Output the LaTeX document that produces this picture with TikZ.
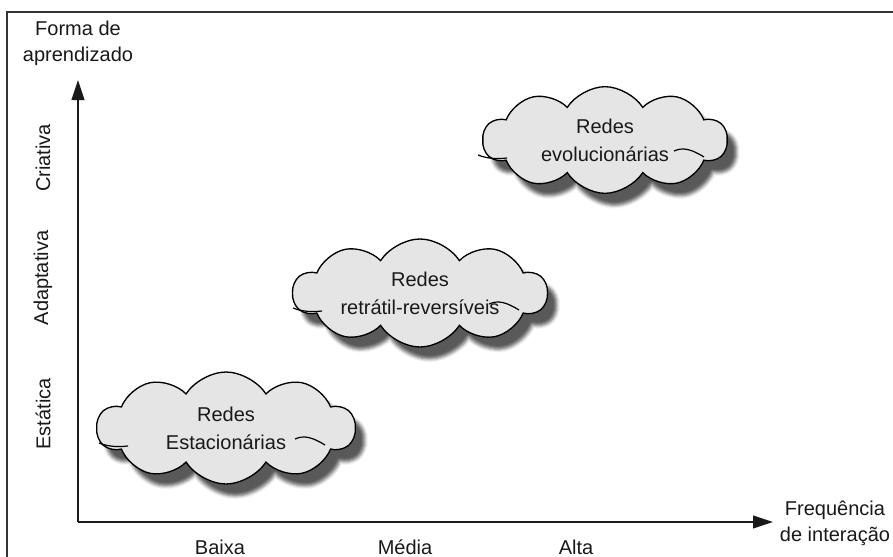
\documentclass[tikz,border=0pt]{standalone}
\usepackage{fontspec}
\setmainfont{Liberation Sans}
\usetikzlibrary{shapes.symbols,arrows.meta,shadows.blur}
\newcommand\cloudmarks[1]{%
  \draw[innermark] ([shift={(-127,15)}]#1.center) .. controls ([shift={(-117,19)}]#1.center) and ([shift={(-107,19)}]#1.center) .. ([shift={(-98,18)}]#1.center);
  \draw[innermark] ([shift={(69,11)}]#1.center) .. controls ([shift={(78,7)}]#1.center) and ([shift={(86,9)}]#1.center) .. ([shift={(99,17)}]#1.center);
}
\begin{document}
\begin{tikzpicture}[x=0.75pt,y=-0.75pt,
  lbl/.style={font=\fontsize{15}{19.5}\selectfont, text=black!90, align=center, inner sep=0pt},
  cloudbox/.style={cloud, cloud puffs=10, cloud puff arc=115, cloud ignores aspect,
    draw=black, line width=1pt, fill=black!10, inner sep=0pt,
    font=\fontsize{15}{21}\selectfont, text=black!90, align=center,
    blur shadow={shadow xshift=7pt, shadow yshift=-9pt, shadow blur radius=2.5pt, shadow opacity=65}},
  axisline/.style={line width=1.5pt, black!90, -{Triangle[length=15pt,width=9.5pt]}},
  innermark/.style={line width=0.9pt, black}
]
\useasboundingbox (0,0) rectangle (893,557);
\draw[line width=1.5pt, black!80] (7,557) -- (7,12) -- (893,12);

% axes
\coordinate (origin) at (78,522);
\coordinate (ytip) at (78,80);
\coordinate (xtip) at (773,522);
\draw[axisline] (origin) -- (ytip);
\draw[axisline] (origin) -- (xtip);

% axis titles
\node[lbl] (ytitle) at (78,43) {Forma de\\aprendizado};
\node[lbl] (xtitle) at (835,523) {Frequência\\de interação};

% y tick labels
\node[lbl, rotate=90] (criativa) at (43,158) {Criativa};
\node[lbl, rotate=90] (adaptativa) at (43,278) {Adaptativa};
\node[lbl, rotate=90] (estatica) at (43,414) {Estática};

% x tick labels
\node[lbl] (baixa) at (220,547) {Baixa};
\node[lbl] (media) at (405,547) {Média};
\node[lbl] (alta) at (576,547) {Alta};

% clouds
\node[cloudbox, minimum width=193.5pt, minimum height=84pt] (c1) at (226,428) {Redes\\Estacionárias};
\cloudmarks{c1}
\node[cloudbox, minimum width=190.5pt, minimum height=81pt] (c2) at (420,293) {Redes\\retrátil-reversíveis};
\cloudmarks{c2}
\node[cloudbox, minimum width=183pt, minimum height=80pt] (c3) at (605,140) {Redes\\evolucionárias};
\cloudmarks{c3}
\end{tikzpicture}
\end{document}
